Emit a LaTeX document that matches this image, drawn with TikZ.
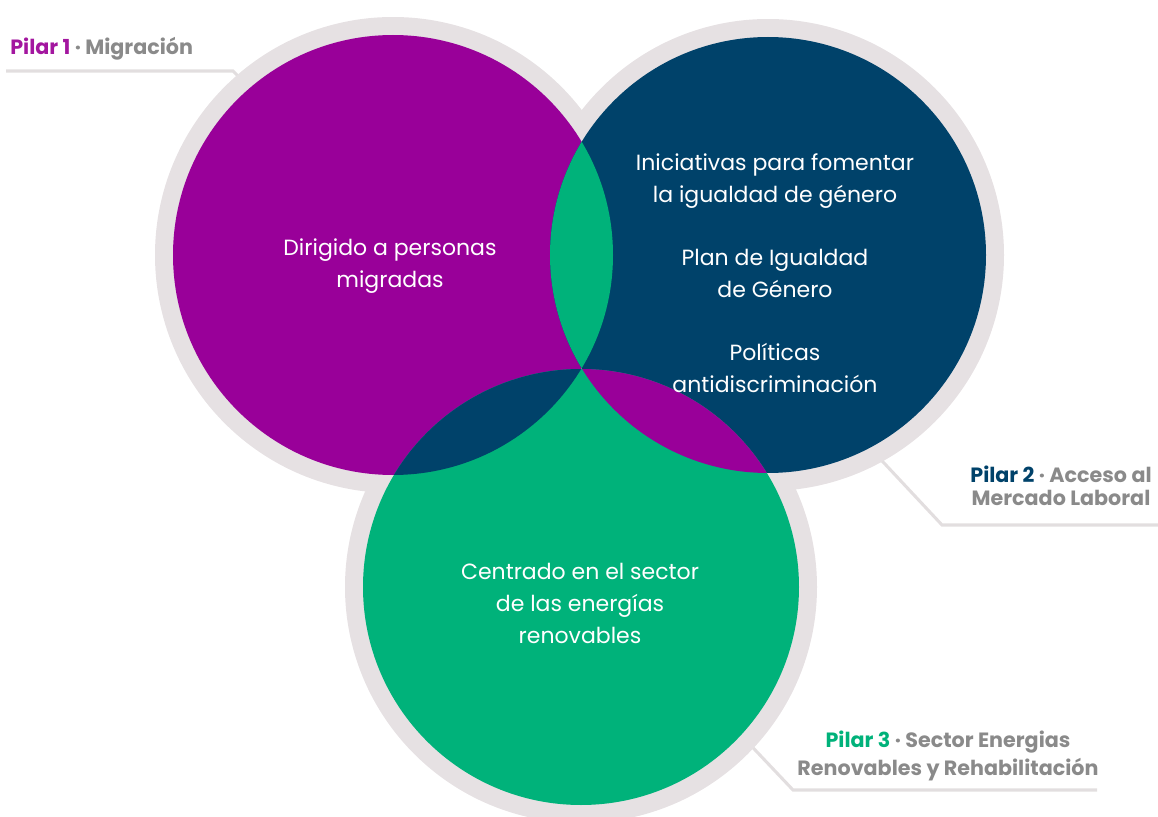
\documentclass[tikz,border=0pt]{standalone}
\usepackage{fontspec}
\setmainfont{Poppins}
\definecolor{pur}{HTML}{990099}
\definecolor{nav}{HTML}{00426A}
\definecolor{grn}{HTML}{00B27A}
\definecolor{ringc}{HTML}{E6E1E3}
\definecolor{leadc}{HTML}{E2DEDF}
\definecolor{lblc}{HTML}{8A8A8A}
\definecolor{pone}{HTML}{A3169F}
\begin{document}
\begin{tikzpicture}[x=0.75pt,y=-0.75pt,
  body/.style={text=white, align=center, font=\fontsize{16.5pt}{24pt}\selectfont, inner sep=0pt, anchor=base},
  pil/.style={text=lblc, align=center, inner sep=0pt, anchor=base},
  leader/.style={draw=leadc, line width=2.3pt}]
\clip (0,0) rectangle (1158,817);
% centres
\coordinate (cP) at (393,255);
\coordinate (cB) at (768,255);
\coordinate (cG) at (581,587);
% leader lines
\coordinate (l1a) at (6,71);
\coordinate (l1b) at (233,71);
\coordinate (l1c) at (262,100);
\coordinate (l2a) at (870,448);
\coordinate (l2b) at (942,525);
\coordinate (l2c) at (1158,525);
\coordinate (l3a) at (740,734);
\coordinate (l3b) at (793,790);
\coordinate (l3c) at (1097,790);
\draw[leader] (l1a) -- (l1b) -- (l1c);
\draw[leader] (l2a) -- (l2b) -- (l2c);
\draw[leader] (l3a) -- (l3b) -- (l3c);
% gray rings
\fill[ringc] (cP) circle (238);
\fill[ringc] (cB) circle (236);
\fill[ringc] (cG) circle (236);
% discs
\fill[pur] (cP) circle (220);
\fill[nav] (cB) circle (218);
\fill[grn] (cG) circle (218);
% lenses
\begin{scope}
  \clip (cP) circle (220);
  \fill[grn] (cB) circle (218);
\end{scope}
\begin{scope}
  \clip (cP) circle (220);
  \fill[nav] (cG) circle (218);
\end{scope}
\begin{scope}
  \clip (cB) circle (218);
  \fill[pur] (cG) circle (218);
\end{scope}
% texts (anchor = baseline of last line)
\node[body] (tP) at (390,287) {Dirigido a personas\\migradas};
\node[body] (tB) at (775,392) {Iniciativas para fomentar\\la igualdad de género\\[23.25pt]Plan de Igualdad\\de Género\\[23.25pt]Políticas\\antidiscriminación};
\node[body] (tG) at (580,643) {Centrado en el sector\\de las energías\\renovables};
% labels
\node[pil, anchor=base west, font=\bfseries\fontsize{15.5pt}{19pt}\selectfont] (lab1) at (10,55) {\textcolor{pone}{Pilar 1} · Migración};
\node[pil, font=\bfseries\fontsize{15.5pt}{17.25pt}\selectfont] (lab2) at (1061,505) {\textcolor{nav}{Pilar 2} · Acceso al\\Mercado Laboral};
\node[pil, font=\bfseries\fontsize{15.5pt}{21pt}\selectfont] (lab3) at (948,775) {\textcolor{grn}{Pilar 3} · Sector Energias\\Renovables y Rehabilitación};
\end{tikzpicture}
\end{document}
